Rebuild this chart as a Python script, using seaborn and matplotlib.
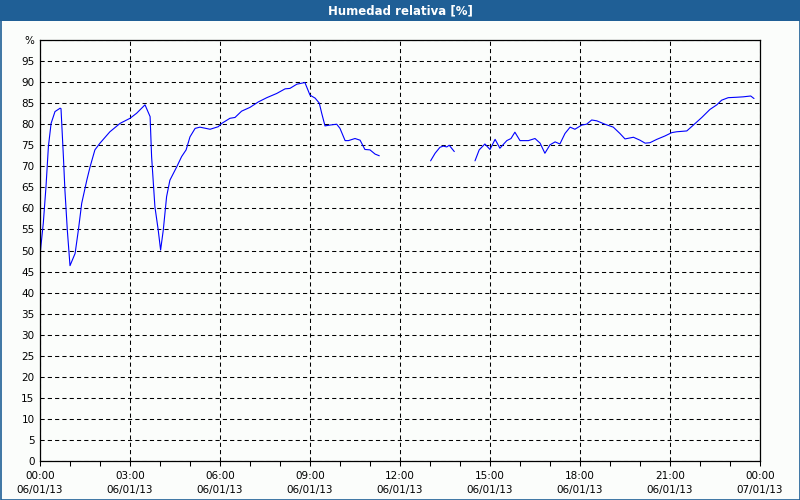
import matplotlib
matplotlib.use("Agg")
import matplotlib.pyplot as plt
import seaborn as sns
import pandas as pd
import numpy as np
from matplotlib.patches import Rectangle

# ---- data (hours since 06/01/13 00:00, relative humidity %) ----
seg1_hours = [0.00, 0.03, 0.11, 0.20, 0.28, 0.37, 0.50, 0.67, 0.70, 0.78, 0.83, 0.91, 1.00,
              1.17, 1.28, 1.39, 1.56, 1.67, 1.83, 2.00, 2.33, 2.67, 3.00, 3.22, 3.50, 3.67,
              3.72, 3.83, 3.94, 4.02, 4.11, 4.22, 4.33, 4.56, 4.72, 4.87, 5.00, 5.17, 5.33,
              5.67, 5.94, 6.06, 6.33, 6.50, 6.72, 7.00, 7.28, 7.56, 7.89, 8.17, 8.33, 8.56,
              8.83, 9.00, 9.17, 9.31, 9.39, 9.50, 9.67, 9.89, 10.00, 10.17, 10.28, 10.50,
              10.67, 10.83, 11.00, 11.17, 11.31]
seg1_values = [48.5, 51.0, 56.5, 65.2, 74.7, 80.2, 83.0, 83.8, 83.7, 72.3, 64.4, 54.9, 46.4,
               49.3, 54.9, 61.2, 66.7, 69.9, 73.9, 75.5, 78.2, 80.2, 81.4, 82.6, 84.6, 81.8,
               72.3, 60.4, 54.9, 50.1, 54.9, 62.8, 66.7, 69.9, 72.3, 73.9, 77.0, 79.0, 79.3,
               78.8, 79.4, 80.2, 81.4, 81.6, 83.1, 84.0, 85.3, 86.3, 87.3, 88.4, 88.5, 89.5,
               89.9, 86.9, 86.2, 85.0, 82.6, 79.6, 79.8, 80.0, 79.0, 76.1, 76.1, 76.6,
               76.2, 74.0, 73.9, 72.9, 72.5]

seg2_hours = [13.02, 13.17, 13.33, 13.44, 13.56, 13.64, 13.81]
seg2_values = [71.3, 73.1, 74.5, 74.8, 74.6, 75.0, 73.5]

seg3_hours = [14.50, 14.64, 14.83, 15.00, 15.17, 15.33, 15.56, 15.70, 15.83, 16.00, 16.28,
              16.50, 16.67, 16.83, 17.00, 17.17, 17.33, 17.50, 17.67, 17.83, 18.06, 18.22,
              18.39, 18.56, 18.83, 19.11, 19.33, 19.50, 19.78, 20.00, 20.17, 20.33, 20.56,
              20.83, 21.06, 21.22, 21.56, 21.78, 22.06, 22.33, 22.56, 22.72, 22.94, 23.22,
              23.44, 23.69, 23.80]
seg3_values = [71.3, 73.9, 75.3, 74.0, 76.4, 74.3, 76.1, 76.6, 78.1, 76.1, 76.1,
               76.6, 75.5, 73.1, 75.1, 75.8, 75.3, 77.8, 79.3, 78.8, 79.8, 80.0,
               81.0, 80.8, 80.0, 79.3, 77.8, 76.5, 76.9, 76.2, 75.5, 75.6, 76.4,
               77.2, 78.0, 78.2, 78.4, 79.8, 81.6, 83.5, 84.6, 85.7, 86.3, 86.4,
               86.5, 86.7, 86.1]

x_tick_hours = [0, 3, 6, 9, 12, 15, 18, 21, 24]
x_tick_labels = ["00:00\n06/01/13", "03:00\n06/01/13", "06:00\n06/01/13", "09:00\n06/01/13",
                 "12:00\n06/01/13", "15:00\n06/01/13", "18:00\n06/01/13", "21:00\n06/01/13",
                 "00:00\n07/01/13"]
y_ticks = list(range(0, 101, 5))
y_tick_labels = [str(v) for v in range(0, 100, 5)] + ["%"]
title = "Humedad relativa [%]"

df = pd.concat([
    pd.DataFrame({"hora": seg1_hours, "hr": seg1_values, "seg": 1}),
    pd.DataFrame({"hora": seg2_hours, "hr": seg2_values, "seg": 2}),
    pd.DataFrame({"hora": seg3_hours, "hr": seg3_values, "seg": 3}),
])

sns.set_style("white")
plt.rcParams["font.family"] = ["DejaVu Sans"]

bg = "#fbfdfb"
frame_blue = "#1f5f96"

fig = plt.figure(figsize=(8, 5), dpi=100, facecolor=bg)
ax = fig.add_axes([40/800, 39/500, 720/800, 421/500])
ax.set_facecolor(bg)

sns.lineplot(data=df, x="hora", y="hr", units="seg", estimator=None,
             color="#0000ff", linewidth=0.8, ax=ax, legend=False)

ax.set_xlim(0, 24)
ax.set_ylim(0, 100)
ax.set_xticks(x_tick_hours)
ax.set_xticklabels(x_tick_labels, fontsize=7.5, linespacing=1.5)
ax.set_xticks(np.arange(0, 25, 1), minor=True)
ax.set_yticks(y_ticks)
ax.set_yticklabels(y_tick_labels, fontsize=7.5)
ax.set_xlabel("")
ax.set_ylabel("")

ax.tick_params(axis="x", which="both", direction="out", length=3.5, width=0.75,
               color="black", labelcolor="black", pad=4, bottom=True)
ax.tick_params(axis="y", which="both", length=0, pad=4, left=False, labelcolor="black")

ax.grid(True, which="major", color="black", linestyle=(0, (4, 3)), linewidth=0.75)
for spine in ax.spines.values():
    spine.set_visible(True)
    spine.set_color("black")
    spine.set_linewidth(0.9)
ax.set_axisbelow(True)

# title bar & frame
fig.patches.append(Rectangle((0, 1 - 21/500), 1, 21/500, transform=fig.transFigure,
                             facecolor=frame_blue, edgecolor="none", zorder=0))
fig.patches.append(Rectangle((0.5/800, 0.5/500), 799/800, 499/500, transform=fig.transFigure,
                             facecolor="none", edgecolor=frame_blue, linewidth=1.2, zorder=5))
fig.text(0.5, 1 - 10.5/500, title, color="white", fontsize=8.5, fontweight="bold",
         ha="center", va="center")

fig.savefig("out.png", dpi=100, facecolor=bg)
